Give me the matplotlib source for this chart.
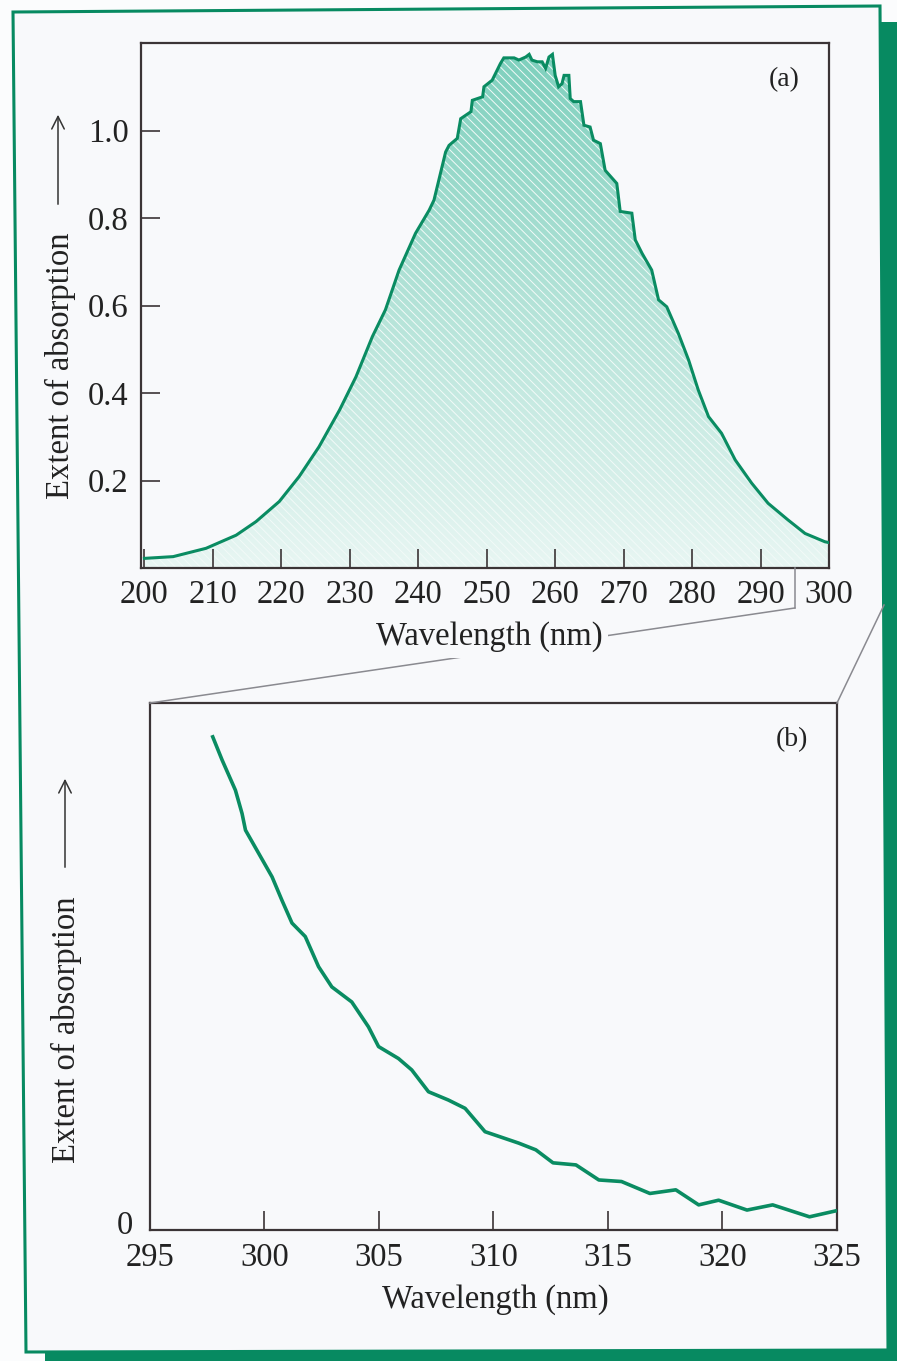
import numpy as np
import matplotlib
matplotlib.use("Agg")
import matplotlib.pyplot as plt
from matplotlib.colors import LinearSegmentedColormap
from matplotlib.patches import Polygon, FancyArrowPatch
from matplotlib.lines import Line2D

# ---------------- data ----------------
wl_a = [200.0, 204.2, 209.0, 213.4, 216.3, 219.7, 222.6, 225.5, 228.5, 230.9, 233.3,
        235.2, 237.2, 239.6, 241.6, 242.3, 244.0, 244.5, 245.7, 246.2, 247.7, 247.9,
        249.4, 249.6, 250.8, 252.0, 252.5, 254.0, 254.7, 255.7, 256.2, 256.6, 257.4,
        258.1, 258.6, 259.1, 259.6, 260.0, 260.5, 261.0, 261.3, 262.0, 262.2, 262.7,
        263.7, 264.2, 265.1, 265.6, 266.6, 267.3, 269.0, 269.5, 271.2, 271.7, 272.7,
        274.1, 275.1, 276.3, 278.0, 279.5, 280.9, 282.4, 284.3, 286.3, 288.7, 291.1,
        294.0, 296.5, 299.4, 300.0]
abs_a = [0.022, 0.026, 0.045, 0.075, 0.106, 0.152, 0.209, 0.277, 0.361, 0.437, 0.529,
         0.590, 0.681, 0.765, 0.818, 0.841, 0.951, 0.966, 0.982, 1.027, 1.043, 1.069,
         1.077, 1.100, 1.115, 1.153, 1.166, 1.166, 1.161, 1.168, 1.174, 1.161, 1.157,
         1.157, 1.142, 1.168, 1.174, 1.126, 1.100, 1.107, 1.126, 1.126, 1.073, 1.066,
         1.066, 1.012, 1.008, 0.978, 0.970, 0.909, 0.879, 0.815, 0.811, 0.750, 0.719,
         0.681, 0.613, 0.597, 0.536, 0.475, 0.407, 0.346, 0.308, 0.247, 0.194, 0.148,
         0.110, 0.079, 0.060, 0.058]

wl_b = [297.71, 298.15, 298.73, 299.02, 299.17, 299.75, 300.33, 300.76, 301.20, 301.78,
        302.36, 302.94, 303.81, 304.54, 304.98, 305.85, 306.43, 307.16, 308.03, 308.76,
        309.63, 311.10, 311.85, 312.60, 313.60, 314.60, 315.59, 316.83, 317.96, 318.96,
        319.83, 321.07, 322.19, 323.80, 324.80, 325.0]
abs_b = [0.938, 0.890, 0.832, 0.787, 0.755, 0.710, 0.665, 0.620, 0.576, 0.550,
         0.492, 0.453, 0.424, 0.376, 0.338, 0.315, 0.293, 0.251, 0.235, 0.219,
         0.174, 0.152, 0.139, 0.114, 0.110, 0.081, 0.078, 0.055, 0.062, 0.033,
         0.042, 0.023, 0.033, 0.010, 0.020, 0.022]

xticks_a = [200, 210, 220, 230, 240, 250, 260, 270, 280, 290, 300]
yticks_a = [0.2, 0.4, 0.6, 0.8, 1.0]
xticks_b = [295, 300, 305, 310, 315, 320, 325]

# ---------------- style ----------------
W, H = 897, 1361
plt.rcParams['font.family'] = ['Liberation Serif', 'DejaVu Serif']
plt.rcParams['hatch.linewidth'] = 0.7
GREEN = '#078a61'
LINE = '#0a8c62'
SPINE = '#3b3436'
PAGE = '#f8f9fb'
TXT = '#222222'
FS = 23.5

fig = plt.figure(figsize=(W / 100, H / 100), dpi=100)
fig.patch.set_facecolor('#fbfcfd')


def px(x, y):
    """pixel (top-left origin) -> figure fraction"""
    return x / W, 1 - y / H


def rect_ax(l, t, r, b):
    x0, y1 = px(l, t)
    x1, y0 = px(r, b)
    return [x0, y0, x1 - x0, y1 - y0]


# page frame: green shadow + white page with green border (slightly skewed scan)
shadow = Polygon([px(45, 22), px(W + 5, 22), px(W + 5, H + 5), px(45, H + 5)],
                 closed=True, transform=fig.transFigure, facecolor=GREEN,
                 edgecolor='none', zorder=-3)
fig.patches.append(shadow)
page = Polygon([px(13, 12), px(880, 6), px(888, 1350), px(26, 1352)],
               closed=True, transform=fig.transFigure, facecolor=PAGE,
               edgecolor=GREEN, linewidth=2.2, zorder=-2)
fig.patches.append(page)


def style_axes(ax):
    for s in ax.spines.values():
        s.set_color(SPINE)
        s.set_linewidth(1.6)
    ax.set_facecolor(PAGE)


# ---------------- panel (a) ----------------
ax_a = fig.add_axes(rect_ax(141, 43, 829, 568))
style_axes(ax_a)
ax_a.set_xlim(199.5, 300)
ax_a.set_ylim(0, 1.2)

cmap = LinearSegmentedColormap.from_list('tealgrad', ['#e8f6f3', '#b4e3d8', '#7ccfbc'])
grad = np.linspace(0, 1, 256).reshape(-1, 1)
poly = ax_a.fill_between(wl_a, 0, abs_a, facecolor='none', edgecolor='none')
im = ax_a.imshow(grad, extent=[199.5, 300, 0, 1.2], origin='lower', aspect='auto',
                 cmap=cmap, zorder=1)
im.set_clip_path(poly.get_paths()[0], transform=ax_a.transData)
ax_a.fill_between(wl_a, 0, abs_a, facecolor='none', edgecolor='#f2faf8',
                  hatch='\\\\\\\\', linewidth=0, zorder=1.5)
ax_a.plot(wl_a, abs_a, color=LINE, lw=2.2, zorder=3, solid_joinstyle='miter')

ax_a.set_xticks(xticks_a)
ax_a.set_xticklabels([str(v) for v in xticks_a])
ax_a.set_yticks(yticks_a)
ax_a.set_yticklabels([f'{v:.1f}' for v in yticks_a])
ax_a.tick_params(axis='both', direction='in', length=14, width=1.2, color=SPINE,
                 labelsize=FS, labelcolor=TXT)
ax_a.tick_params(axis='x', pad=8)
ax_a.tick_params(axis='y', pad=9)
ax_a.text(0.935, 0.93, '(a)', transform=ax_a.transAxes, fontsize=20,
          ha='center', va='center', color=TXT)

# ---------------- panel (b) ----------------
ax_b = fig.add_axes(rect_ax(150, 703, 837, 1230))
style_axes(ax_b)
ax_b.set_xlim(295, 325)
ax_b.set_ylim(-0.0154, 1.0)
ax_b.plot(wl_b, abs_b, color=LINE, lw=2.6, zorder=3, solid_joinstyle='round',
          solid_capstyle='butt')
ax_b.set_xticks(xticks_b)
ax_b.set_xticklabels([str(v) for v in xticks_b])
ax_b.set_yticks([0])
ax_b.set_yticklabels(['0'])
ax_b.tick_params(axis='x', direction='in', length=14, width=1.2, color=SPINE,
                 labelsize=FS, labelcolor=TXT, pad=9)
ax_b.tick_params(axis='y', length=0, labelsize=FS, labelcolor=TXT, pad=12)
ax_b.text(0.935, 0.93, '(b)', transform=ax_b.transAxes, fontsize=20,
          ha='center', va='center', color=TXT)

# ---------------- axis labels ----------------
fig.text(*px(489, 637), 'Wavelength (nm)', fontsize=FS, ha='center', va='center',
         color=TXT, zorder=6,
         bbox=dict(facecolor=PAGE, edgecolor='none', pad=4))
fig.text(*px(495, 1300), 'Wavelength (nm)', fontsize=FS, ha='center', va='center',
         color=TXT)
fig.text(*px(60, 366), 'Extent of absorption', fontsize=FS, rotation=90,
         ha='center', va='center', color=TXT)
fig.text(*px(66, 1030), 'Extent of absorption', fontsize=FS, rotation=90,
         ha='center', va='center', color=TXT)

for (x, y0, y1) in [(58, 207, 112), (65, 870, 776)]:
    fig.patches.append(FancyArrowPatch(
        px(x, y0), px(x, y1), transform=fig.transFigure,
        arrowstyle='->,head_length=6,head_width=3', color='#333', lw=1.1,
        mutation_scale=1.5))

# ---------------- zoom connector lines ----------------
fig.canvas.draw()
p295 = ax_a.transData.transform((295, 0))
p295 = (p295[0], H - p295[1])
tl_b = ax_b.transAxes.transform((0, 1))
tl_b = (tl_b[0], H - tl_b[1])
tr_b = ax_b.transAxes.transform((1, 1))
tr_b = (tr_b[0], H - tr_b[1])
kink = (p295[0], p295[1] + 40)
conn_color = '#8a8a90'
for (a, b) in [(p295, kink), (kink, tl_b), (tr_b, (884, 605))]:
    (xa, ya), (xb, yb) = px(*a), px(*b)
    fig.lines.append(Line2D([xa, xb], [ya, yb], transform=fig.transFigure,
                            color=conn_color, lw=1.1, zorder=4))

fig.savefig('out.png', dpi=100, facecolor=fig.get_facecolor())
